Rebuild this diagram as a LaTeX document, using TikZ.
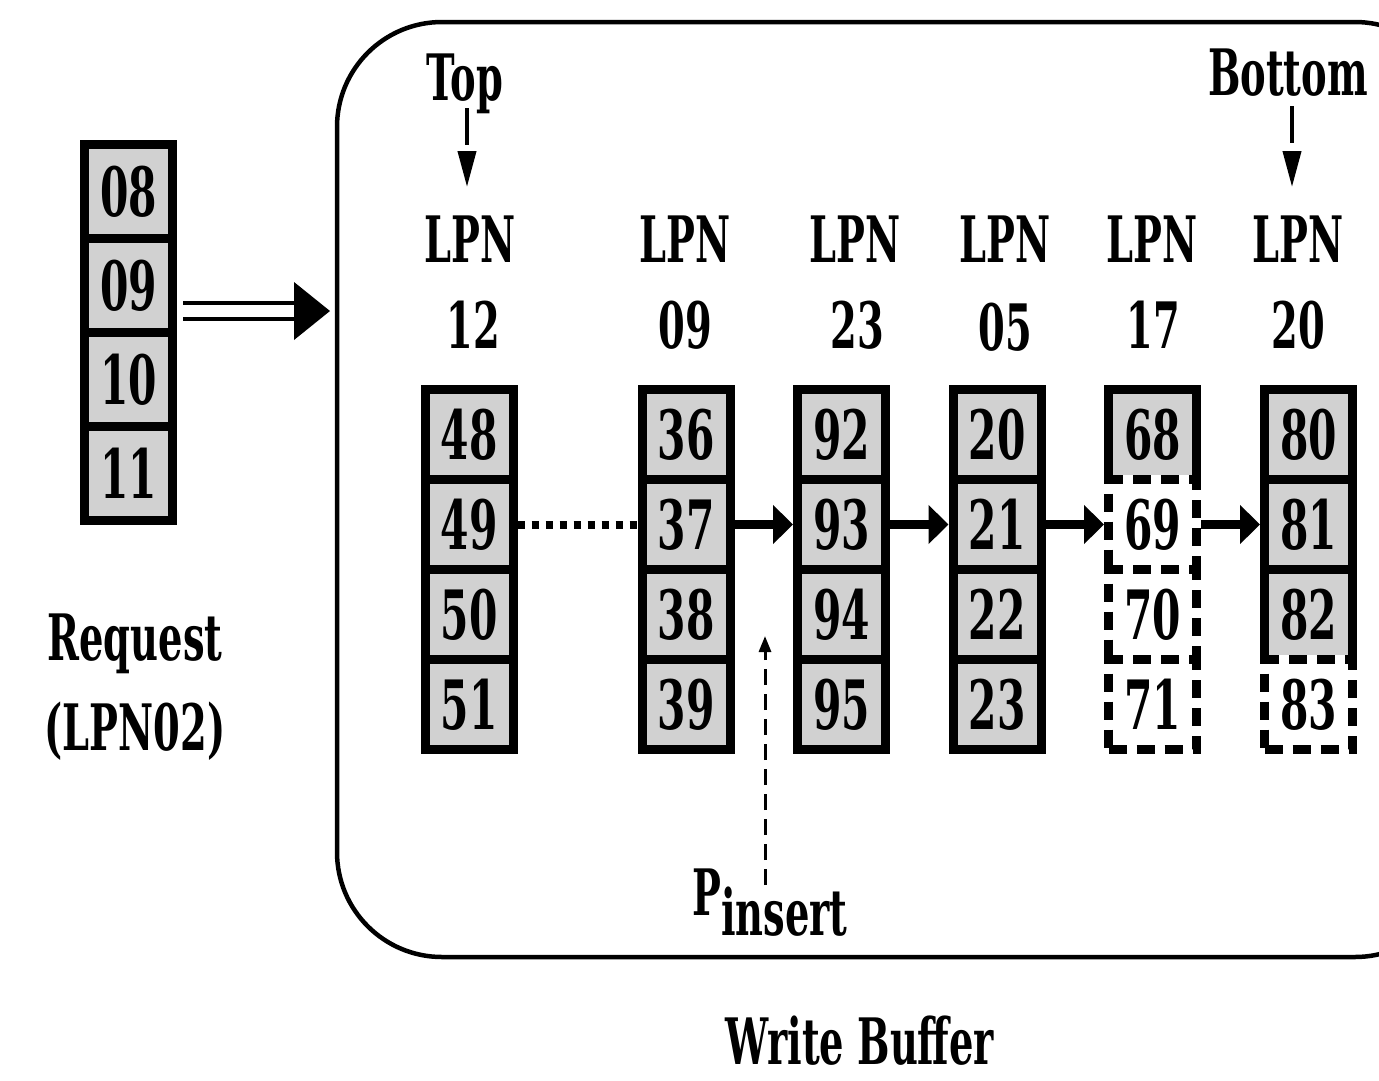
\documentclass[tikz,border=0pt]{standalone}
\usepackage{fontspec}
\usetikzlibrary{arrows.meta}
\newfontfamily\twfam[FakeStretch=0.6]{DejaVu Serif}
\newcommand\labfont{\twfam\bfseries\fontsize{64}{64}\selectfont}
\newcommand\cellfont{\twfam\bfseries\fontsize{68}{68}\selectfont}
\begin{document}
\begin{tikzpicture}[x=1pt,y=-1pt,
  cell/.style={draw, line width=9pt, fill=black!18, minimum width=88pt, minimum height=90pt, inner sep=0pt, font=\cellfont},
  rcell/.style={cell, minimum height=94pt},
  dcell/.style={cell, fill=white, dash pattern=on 18pt off 10pt, preaction={draw=white, solid}},
  lab/.style={font=\labfont, inner sep=0pt, anchor=base},
  harrow/.style={line width=8.5pt, -{Triangle[length=20pt,width=38pt]}},
  dotline/.style={line width=8pt, dash pattern=on 7pt off 7pt},
  tarrow/.style={line width=4pt, dash pattern=on 37pt off 8pt, -{Triangle[length=36pt,width=18pt]}},
  parrow/.style={line width=3pt, dash pattern=on 16pt off 9pt, -{Triangle[length=16pt,width=12pt]}}
]
\useasboundingbox (0,0) rectangle (1379,1080);
\clip (0,0) rectangle (1379,1080);

% write buffer box
\draw[line width=4.5pt, rounded corners=105pt] (337,22) rectangle (1460,957);
\coordinate (wbin) at (330,311);

% request column
\node[rcell] (r1) at (128.5,191.5) {08};
\node[rcell] (r2) at (128.5,285.5) {09};
\node[rcell] (r3) at (128.5,379.5) {10};
\node[rcell] (r4) at (128.5,473.5) {11};
\node[lab] (req) at (135,660) {Request};
\node[lab] (reqlpn) at (135,750) {(LPN02)};

% double arrow
\coordinate (qa) at (r2.east |- wbin);
\draw[line width=4.5pt] ([xshift=6pt,yshift=8pt]qa) -- ([xshift=-32pt,yshift=8pt]wbin);
\draw[line width=4.5pt] ([xshift=6pt,yshift=-8pt]qa) -- ([xshift=-32pt,yshift=-8pt]wbin);
\fill ([xshift=-36pt,yshift=29pt]wbin) -- (wbin) -- ([xshift=-36pt,yshift=-29pt]wbin) -- cycle;

% LPN labels
\node[lab] (l1) at (470,262) {LPN};
\node[lab] (l2) at (685,262) {LPN};
\node[lab] (l3) at (855,262) {LPN};
\node[lab] (l4) at (1005,262) {LPN};
\node[lab] (l5) at (1152,262) {LPN};
\node[lab] (l6) at (1298,262) {LPN};
\node[lab] (n1) at (473,348) {12};
\node[lab] (n2) at (685,348) {09};
\node[lab] (n3) at (857,348) {23};
\node[lab] (n4) at (1005,350) {05};
\node[lab] (n5) at (1153,348) {17};
\node[lab] (n6) at (1298,348) {20};

% Top / Bottom
\node[lab] (top) at (465,100) {Top};
\node[lab] (bot) at (1288,95) {Bottom};
\coordinate (topa) at (467,108);
\coordinate (topb) at (467,187);
\coordinate (bota) at (1292,106);
\coordinate (botb) at (1292,187);
\draw[tarrow] (topa) -- (topb);
\draw[tarrow] (bota) -- (botb);

% columns
\node[cell] (a1) at (469,434.5) {48};
\node[cell] (a2) at (469,524.5) {49};
\node[cell] (a3) at (469,614.5) {50};
\node[cell] (a4) at (469,704.5) {51};

\node[cell] (b1) at (686,434.5) {36};
\node[cell] (b2) at (686,524.5) {37};
\node[cell] (b3) at (686,614.5) {38};
\node[cell] (b4) at (686,704.5) {39};

\node[cell] (c1) at (841.5,434.5) {92};
\node[cell] (c2) at (841.5,524.5) {93};
\node[cell] (c3) at (841.5,614.5) {94};
\node[cell] (c4) at (841.5,704.5) {95};

\node[cell] (d1) at (997,434.5) {20};
\node[cell] (d2) at (997,524.5) {21};
\node[cell] (d3) at (997,614.5) {22};
\node[cell] (d4) at (997,704.5) {23};

\node[cell] (e1) at (1152.5,434.5) {68};
\node[cell] (f1) at (1308.5,434.5) {80};
\node[cell] (f2) at (1308.5,524.5) {81};
\node[cell] (f3) at (1308.5,614.5) {82};

\node[dcell] (e2) at (1152.5,524.5) {69};
\node[dcell] (e3) at (1152.5,614.5) {70};
\node[dcell] (e4) at (1152.5,704.5) {71};
\node[dcell] (f4) at (1308.5,704.5) {83};

% links
\draw[dotline] (a2.east) -- (b2.west);
\draw[harrow] (b2.east) -- (c2.west);
\draw[harrow] (c2.east) -- (d2.west);
\draw[harrow] (d2.east) -- (e2.west);
\draw[harrow] (e2.east) -- (f2.west);

% P insert
\node[lab] (pins) at (770,915) {P\raisebox{-20pt}{insert}};
\coordinate (pa) at (765,885);
\coordinate (pb) at (765,636);
\draw[parrow] (pa) -- (pb);

\node[lab] (wb) at (860,1064) {Write Buffer};
\end{tikzpicture}
\end{document}
